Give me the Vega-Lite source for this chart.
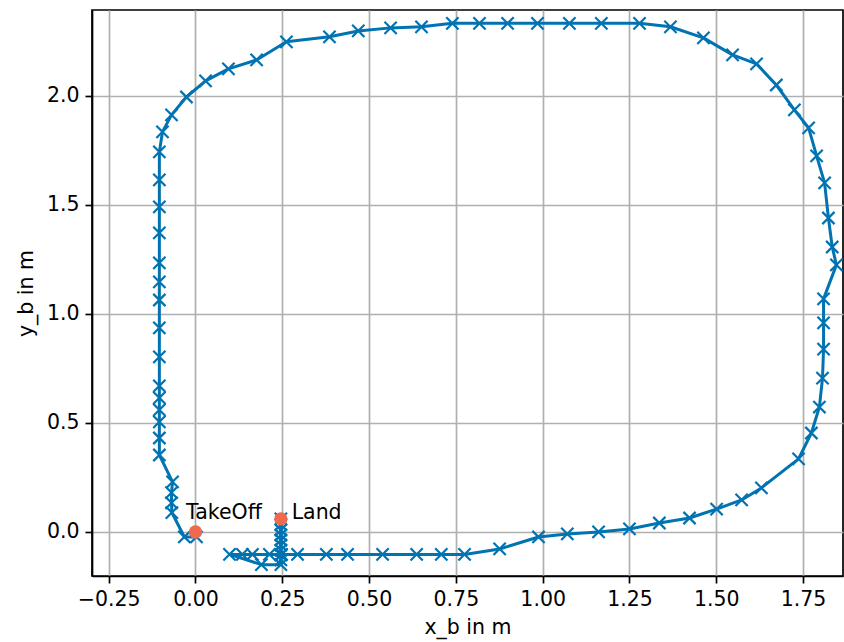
{
  "$schema": "https://vega.github.io/schema/vega-lite/v6.json",
  "width": 751,
  "height": 566,
  "autosize": {"type": "none"},
  "padding": {"left": 92, "top": 10, "right": 1, "bottom": 66},
  "background": "white",
  "config": {
    "view": {"stroke": "black", "strokeWidth": 1.7},
    "axis": {
      "labelFont": "DejaVu Sans", "labelFontSize": 20.5, "labelColor": "black",
      "titleFont": "DejaVu Sans", "titleFontSize": 20.5, "titleFontWeight": "normal", "titleColor": "black",
      "tickColor": "black", "tickSize": 7, "tickWidth": 1.7,
      "domainColor": "black", "domainWidth": 1.7,
      "gridColor": "#b0b0b0", "gridWidth": 1.7, "gridOpacity": 1,
      "labelPadding": 6
    }
  },
  "datasets": {
    "traj": [
      {"i": 0, "x": 0.003, "y": -0.023},
      {"i": 1, "x": -0.032, "y": -0.023},
      {"i": 2, "x": -0.068, "y": 0.089},
      {"i": 3, "x": -0.069, "y": 0.133},
      {"i": 4, "x": -0.069, "y": 0.180},
      {"i": 5, "x": -0.066, "y": 0.230},
      {"i": 6, "x": -0.104, "y": 0.353},
      {"i": 7, "x": -0.104, "y": 0.431},
      {"i": 8, "x": -0.104, "y": 0.505},
      {"i": 9, "x": -0.104, "y": 0.560},
      {"i": 10, "x": -0.104, "y": 0.615},
      {"i": 11, "x": -0.104, "y": 0.670},
      {"i": 12, "x": -0.104, "y": 0.803},
      {"i": 13, "x": -0.104, "y": 0.936},
      {"i": 14, "x": -0.104, "y": 1.064},
      {"i": 15, "x": -0.104, "y": 1.147},
      {"i": 16, "x": -0.104, "y": 1.234},
      {"i": 17, "x": -0.104, "y": 1.372},
      {"i": 18, "x": -0.104, "y": 1.491},
      {"i": 19, "x": -0.104, "y": 1.615},
      {"i": 20, "x": -0.104, "y": 1.743},
      {"i": 21, "x": -0.095, "y": 1.835},
      {"i": 22, "x": -0.069, "y": 1.913},
      {"i": 23, "x": -0.026, "y": 1.995},
      {"i": 24, "x": 0.029, "y": 2.069},
      {"i": 25, "x": 0.095, "y": 2.124},
      {"i": 26, "x": 0.176, "y": 2.165},
      {"i": 27, "x": 0.262, "y": 2.248},
      {"i": 28, "x": 0.386, "y": 2.271},
      {"i": 29, "x": 0.469, "y": 2.298},
      {"i": 30, "x": 0.562, "y": 2.312},
      {"i": 31, "x": 0.651, "y": 2.317},
      {"i": 32, "x": 0.740, "y": 2.333},
      {"i": 33, "x": 0.818, "y": 2.333},
      {"i": 34, "x": 0.899, "y": 2.333},
      {"i": 35, "x": 0.985, "y": 2.333},
      {"i": 36, "x": 1.077, "y": 2.333},
      {"i": 37, "x": 1.169, "y": 2.333},
      {"i": 38, "x": 1.279, "y": 2.333},
      {"i": 39, "x": 1.368, "y": 2.317},
      {"i": 40, "x": 1.463, "y": 2.266},
      {"i": 41, "x": 1.547, "y": 2.188},
      {"i": 42, "x": 1.616, "y": 2.147},
      {"i": 43, "x": 1.673, "y": 2.050},
      {"i": 44, "x": 1.725, "y": 1.936},
      {"i": 45, "x": 1.766, "y": 1.853},
      {"i": 46, "x": 1.789, "y": 1.725},
      {"i": 47, "x": 1.812, "y": 1.601},
      {"i": 48, "x": 1.823, "y": 1.440},
      {"i": 49, "x": 1.834, "y": 1.307},
      {"i": 50, "x": 1.846, "y": 1.225},
      {"i": 51, "x": 1.809, "y": 1.069},
      {"i": 52, "x": 1.809, "y": 0.959},
      {"i": 53, "x": 1.809, "y": 0.839},
      {"i": 54, "x": 1.806, "y": 0.706},
      {"i": 55, "x": 1.797, "y": 0.573},
      {"i": 56, "x": 1.774, "y": 0.454},
      {"i": 57, "x": 1.737, "y": 0.335},
      {"i": 58, "x": 1.630, "y": 0.202},
      {"i": 59, "x": 1.573, "y": 0.147},
      {"i": 60, "x": 1.501, "y": 0.105},
      {"i": 61, "x": 1.423, "y": 0.064},
      {"i": 62, "x": 1.336, "y": 0.041},
      {"i": 63, "x": 1.250, "y": 0.014},
      {"i": 64, "x": 1.161, "y": 0.000},
      {"i": 65, "x": 1.071, "y": -0.009},
      {"i": 66, "x": 0.988, "y": -0.023},
      {"i": 67, "x": 0.876, "y": -0.078},
      {"i": 68, "x": 0.775, "y": -0.103},
      {"i": 69, "x": 0.708, "y": -0.103},
      {"i": 70, "x": 0.637, "y": -0.103},
      {"i": 71, "x": 0.539, "y": -0.103},
      {"i": 72, "x": 0.438, "y": -0.103},
      {"i": 73, "x": 0.377, "y": -0.103},
      {"i": 74, "x": 0.294, "y": -0.103},
      {"i": 75, "x": 0.248, "y": -0.103},
      {"i": 76, "x": 0.213, "y": -0.103},
      {"i": 77, "x": 0.164, "y": -0.103},
      {"i": 78, "x": 0.135, "y": -0.103},
      {"i": 79, "x": 0.098, "y": -0.103},
      {"i": 80, "x": 0.190, "y": -0.150},
      {"i": 81, "x": 0.246, "y": -0.150},
      {"i": 82, "x": 0.246, "y": -0.128},
      {"i": 83, "x": 0.246, "y": -0.106},
      {"i": 84, "x": 0.246, "y": -0.083},
      {"i": 85, "x": 0.246, "y": -0.060},
      {"i": 86, "x": 0.246, "y": -0.037},
      {"i": 87, "x": 0.246, "y": -0.014},
      {"i": 88, "x": 0.246, "y": 0.009},
      {"i": 89, "x": 0.246, "y": 0.034},
      {"i": 90, "x": 0.246, "y": 0.060}
    ],
    "events": [
      {"event": "TakeOff", "x": 0.0, "y": 0.0},
      {"event": "Land", "x": 0.246, "y": 0.060}
    ],
    "labels": [
      {"label": "TakeOff", "x": -0.027, "y": 0.058},
      {"label": "Land", "x": 0.277, "y": 0.058}
    ]
  },
  "encoding": {
    "x": {
      "field": "x", "type": "quantitative",
      "scale": {"domain": [-0.298, 1.865], "nice": false, "zero": false},
      "axis": {"values": [-0.25, 0, 0.25, 0.5, 0.75, 1.0, 1.25, 1.5, 1.75], "format": ".2f", "title": "x_b in m", "titlePadding": 8}
    },
    "y": {
      "field": "y", "type": "quantitative",
      "scale": {"domain": [-0.202, 2.394], "nice": false, "zero": false},
      "axis": {"values": [0, 0.5, 1.0, 1.5, 2.0], "format": ".1f", "title": "y_b in m", "titlePadding": 10}
    }
  },
  "layer": [
    {
      "data": {"name": "traj"},
      "mark": {"type": "line", "color": "#0173B2", "strokeWidth": 3, "strokeJoin": "round"},
      "encoding": {"order": {"field": "i", "type": "quantitative"}}
    },
    {
      "data": {"name": "traj"},
      "mark": {"type": "point", "shape": "M-1,-1L1,1M-1,1L1,-1", "filled": false, "stroke": "#0173B2", "strokeWidth": 2.2, "size": 150, "opacity": 1}
    },
    {
      "data": {"name": "events"},
      "mark": {"type": "circle", "color": "#ED6A4E", "size": 180, "opacity": 1}
    },
    {
      "data": {"name": "labels"},
      "mark": {"type": "text", "align": "left", "baseline": "alphabetic", "font": "DejaVu Sans", "fontSize": 20.5, "color": "black"},
      "encoding": {"text": {"field": "label", "type": "nominal"}}
    }
  ]
}
